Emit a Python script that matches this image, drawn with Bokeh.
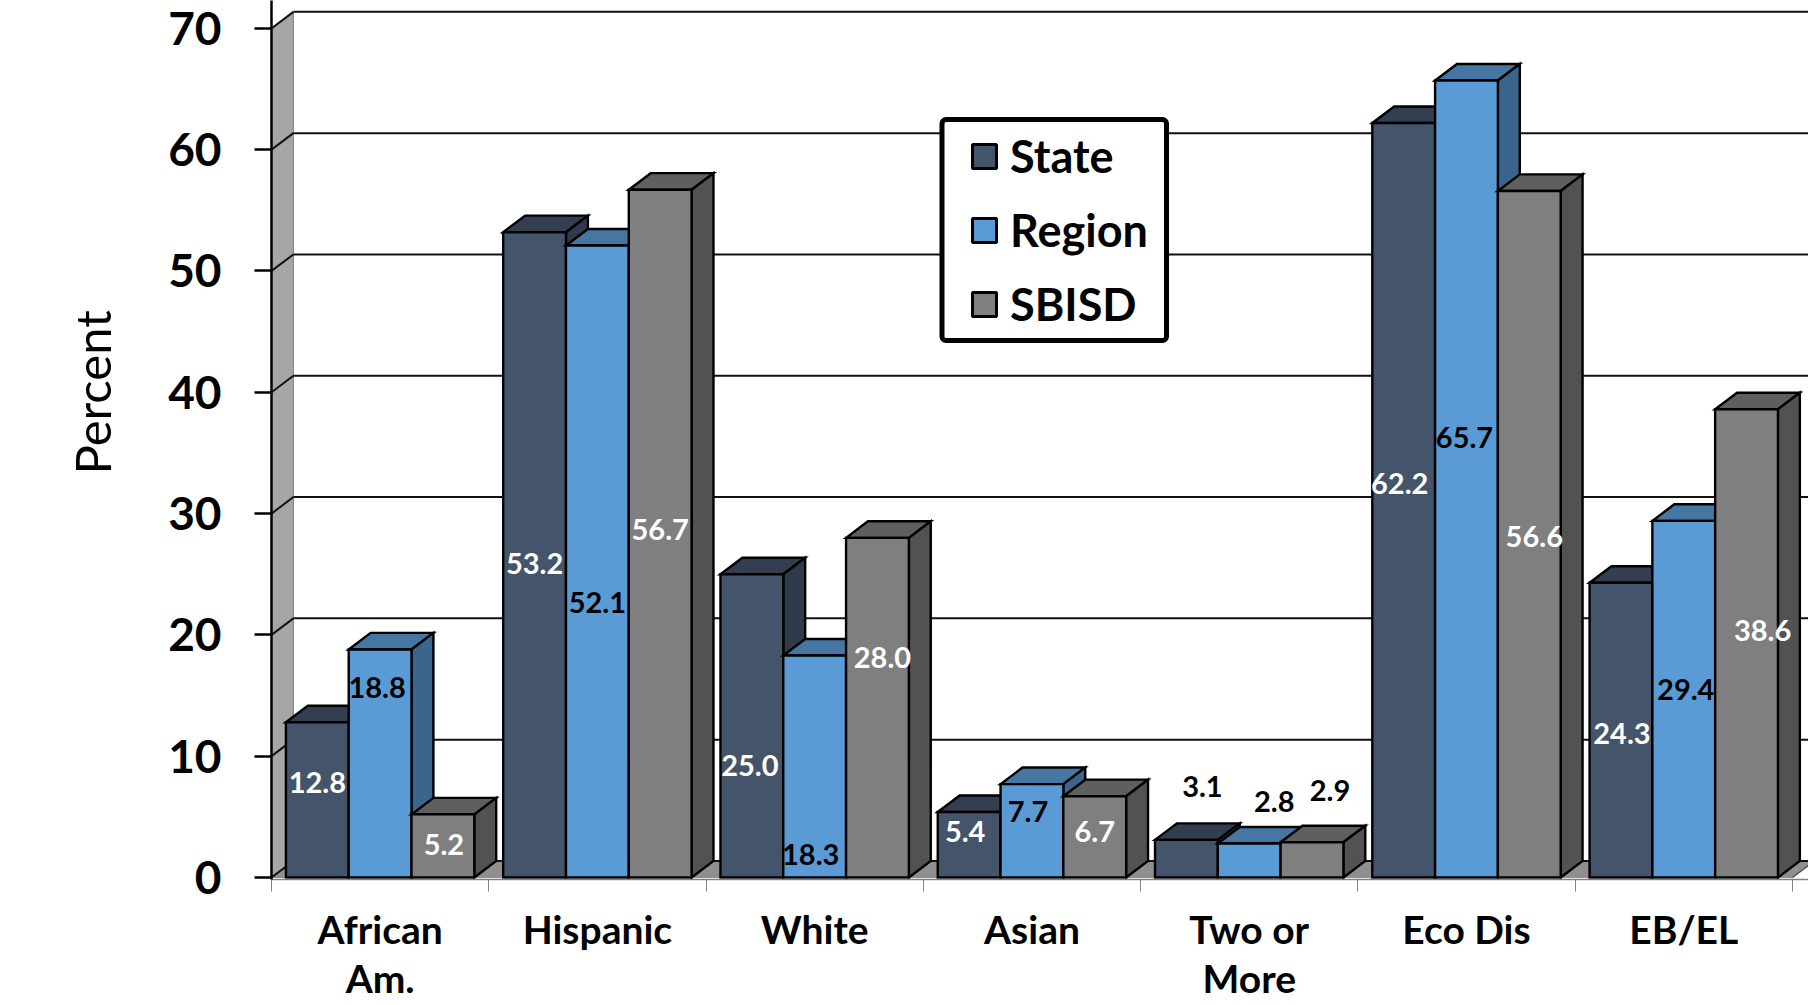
from bokeh.plotting import figure, ColumnDataSource
from bokeh.models import Range1d, FixedTicker, Title, Legend, LegendItem, BoxAnnotation
from bokeh.core.properties import value
from bokeh.embed import file_html
from bokeh.resources import INLINE

categories = ["African\nAm.", "Hispanic", "White", "Asian", "Two or\nMore", "Eco Dis", "EB/EL"]
series_names = ["State", "Region", "SBISD"]
state = [12.8, 53.2, 25.0, 5.4, 3.1, 62.2, 24.3]
region = [18.8, 52.1, 18.3, 7.7, 2.8, 65.7, 29.4]
sbisd = [5.2, 56.7, 28.0, 6.7, 2.9, 56.6, 38.6]
y_ticks = [0, 10, 20, 30, 40, 50, 60, 70]

# where the data labels were placed by hand in the original, in axis units
state_label_y = [7.8, 25.9, 9.2, 3.8, 7.5, 32.5, 11.9]
region_label_y = [15.7, 22.7, 1.9, 5.4, 6.3, 36.3, 15.5]
sbisd_label_y = [2.7, 28.7, 18.1, 3.8, 7.2, 28.1, 20.4]
state_label_dx = [0, 0, -2, -4, 16, -4, 1]
region_label_dx = [-3, 0, -4, -4, 25, -2, 2]
sbisd_label_dx = [1, 0, 5, 0, 18, 5, 16]
state_label_color = ["white"] * 4 + ["black"] + ["white"] * 2
region_label_color = ["black"] * 7
sbisd_label_color = ["white"] * 4 + ["black"] + ["white"] * 2

FONT = "Lato"
FRONT = ["#44546a", "#5b9bd5", "#7f7f7f"]
TOP = ["#333f50", "#4676a2", "#5f5f5f"]
SIDE = ["#2f3b4b", "#3b658c", "#525252"]
DX, DY = 0.1008, 1.365          # oblique depth of the 3-D box
GAP, BAR = 0.0664, 0.289        # inner gap and bar width, in category units
XMAX = 7.074

p = figure(width=1808, height=997, frame_width=1537, frame_height=879,
           output_backend="svg", toolbar_location=None,
           x_range=Range1d(0, XMAX), y_range=Range1d(-0.165, 72.3),
           min_border_left=271, min_border_right=0, min_border_top=0, min_border_bottom=118)
p.grid.visible = False
p.outline_line_color = None
p.background_fill_color = "white"

# side wall and floor
n = len(categories)
p.patch([0, DX, DX, 0], [0, DY, 70 + DY, 70], fill_color="#a6a6a6", line_color="#7f7f7f", line_width=1)
p.patch([0, n, n + DX, DX], [0, 0, DY, DY], fill_color="#8f8f8f", line_color="#8f8f8f", line_width=1)
p.segment([n], [0], [n + DX], [DY], line_color="#555555", line_width=1.5)
# gridlines on the back wall, and their returns on the side wall
p.segment([DX] * len(y_ticks), [v + DY for v in y_ticks], [XMAX] * len(y_ticks), [v + DY for v in y_ticks],
          line_color="#111111", line_width=2)
p.segment([0] * len(y_ticks), y_ticks, [DX] * len(y_ticks), [v + DY for v in y_ticks],
          line_color="#111111", line_width=2)

# bars, painted left to right
xs, ys, fills = [], [], []
for i in range(n):
    for k, vals in enumerate([state, region, sbisd]):
        x0 = i + GAP + k * BAR
        x1 = x0 + BAR
        v = vals[i]
        xs += [[x0, x0 + DX, x1 + DX, x1], [x1, x1 + DX, x1 + DX, x1], [x0, x1, x1, x0]]
        ys += [[v, v + DY, v + DY, v], [v, v + DY, DY, 0], [0, 0, v, v]]
        fills += [TOP[k], SIDE[k], FRONT[k]]
p.patches("xs", "ys", source=ColumnDataSource(dict(xs=xs, ys=ys, fill=fills)),
          fill_color="fill", line_color="black", line_width=2.4, line_join="miter")

# data labels
lx, ly, lt, lc, ldx = [], [], [], [], []
for k, (vals, ylab, dxs, cols) in enumerate([
        (state, state_label_y, state_label_dx, state_label_color),
        (region, region_label_y, region_label_dx, region_label_color),
        (sbisd, sbisd_label_y, sbisd_label_dx, sbisd_label_color)]):
    for i in range(n):
        lx.append(i + GAP + (k + 0.5) * BAR)
        ly.append(ylab[i])
        lt.append(f"{vals[i]:.1f}")
        lc.append(cols[i])
        ldx.append(dxs[i])
p.text("x", "y", text="t", source=ColumnDataSource(dict(x=lx, y=ly, t=lt, c=lc, dx=ldx)),
       x_offset="dx", text_color="c", text_font=value(FONT), text_font_style="bold",
       text_font_size="29px", text_align="center", text_baseline="middle")

# axes
ya = p.yaxis[0]
ya.ticker = FixedTicker(ticks=y_ticks)
ya.major_tick_in = 0
ya.major_tick_out = 17
ya.minor_tick_out = 0
ya.major_tick_line_width = 2.5
ya.major_tick_line_color = "black"
ya.axis_line_color = "black"
ya.axis_line_width = 2.5
ya.major_label_standoff = 33
ya.major_label_text_font = FONT
ya.major_label_text_font_style = "bold"
ya.major_label_text_font_size = "46px"
ya.major_label_text_color = "black"

# the y title, offset along the axis to where the original has it
p.add_layout(Title(text="Percent", align="left", vertical_align="top", offset=405, standoff=86, text_font=FONT,
                   text_font_size="49px", text_font_style="normal", text_color="black"), "left")

xa = p.xaxis[0]
xa.ticker = FixedTicker(ticks=[i + 0.5 for i in range(n)], minor_ticks=list(range(n + 1)))
xa.major_label_overrides = {i + 0.5: c for i, c in enumerate(categories)}
xa.major_tick_in = 0
xa.major_tick_out = 0
xa.minor_tick_in = 0
xa.minor_tick_out = 12
xa.minor_tick_line_color = "#808080"
xa.minor_tick_line_width = 1
xa.axis_line_color = "#808080"
xa.axis_line_width = 1.5
xa.major_label_standoff = 14
xa.major_label_text_font = FONT
xa.major_label_text_font_style = "bold"
xa.major_label_text_font_size = "39px"
xa.major_label_text_color = "black"
xa.major_label_text_line_height = 1.08

# legend: a framed box with the library's legend inside it
p.add_layout(BoxAnnotation(left=670.5, right=895, bottom=539, top=760,
                           left_units="screen", right_units="screen", bottom_units="screen", top_units="screen",
                           fill_color="white", fill_alpha=1, line_color="black", line_alpha=1, line_width=5,
                           border_radius=4, level="annotation"))
items = []
for name, col in zip(series_names, FRONT):
    r = p.quad(left=[float("nan")], right=[float("nan")], top=[float("nan")], bottom=[float("nan")],
               fill_color=col, line_color="black", line_width=3)
    items.append(LegendItem(label=name, renderers=[r]))
leg = Legend(items=items, location=(698, 548), orientation="vertical",
             glyph_width=30, glyph_height=30, label_standoff=11, spacing=20, padding=0, margin=0,
             label_text_font=FONT, label_text_font_style="bold", label_text_font_size="45px",
             label_text_color="black", label_height=30, border_line_color=None,
             background_fill_color=None, inactive_fill_alpha=0)
p.add_layout(leg, "center")

open("out.html", "w").write(file_html(p, INLINE))
